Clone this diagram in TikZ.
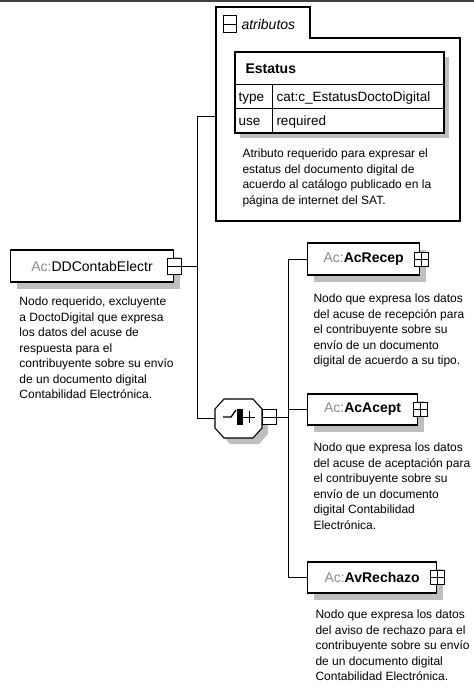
\documentclass[tikz,border=0pt]{standalone}
\usepackage{fontspec}
\setmainfont{Liberation Sans}
\usetikzlibrary{shadows}

\newcommand{\acpre}{\textcolor{black!45}{Ac:}}

\begin{document}
\begin{tikzpicture}[x=1pt, y=-1pt, line width=1pt,
  elem/.style={draw, fill=white, line width=1.2pt, minimum height=32pt, inner sep=0pt,
    anchor=west, font=\fontsize{14}{16}\selectfont,
    drop shadow={shadow xshift=6pt, shadow yshift=-7pt, fill=black!25, opacity=1}},
  desc/.style={anchor=north west, align=left, inner sep=0pt, font=\fontsize{12}{15.5}\selectfont},
  cell/.style={anchor=base west, inner sep=0pt, font=\fontsize{13.5}{15}\selectfont},
  plusbox/.style={draw, fill=white, minimum size=14pt, inner sep=0pt, line width=1pt,
    path picture={\draw (path picture bounding box.north) -- (path picture bounding box.south)
      (path picture bounding box.west) -- (path picture bounding box.east);}},
  minusbox/.style={draw, fill=white, minimum width=14pt, minimum height=16pt, inner sep=0pt, line width=1pt,
    path picture={\draw (path picture bounding box.west) -- (path picture bounding box.east);}}]

\useasboundingbox (0,0) rectangle (474,691);

% draw frame line on top
\draw[black!75, line width=1.5pt] (0,1) -- (474,1);

% draw attribute group
\draw[line width=1.1pt] (216,221) -- (216,7) -- (310,7) -- (310,38) -- (460,38) -- (460,221) -- cycle;
\node[minusbox, minimum width=13pt, minimum height=17pt] (attminus) at (230,24) {};
\node[anchor=west, inner sep=0pt, font=\fontsize{14}{16}\selectfont\itshape] (attlabel) at (241,24) {atributos};
\coordinate (attin) at (216,116);

% draw attribute table
\node[draw, fill=white, line width=1.1pt, minimum width=209pt, minimum height=81pt, inner sep=0pt,
  drop shadow={shadow xshift=5pt, shadow yshift=-5pt, fill=black!25, opacity=1}] (estatus) at (339.5,92.5) {};
\draw (235,84) -- (444,84);
\draw (235,108) -- (444,108);
\draw (272,84) -- (272,133);
\node[cell, font=\fontsize{14}{16}\selectfont\bfseries] (estatusname) at (245,73) {Estatus};
\node[cell] (typekey) at (238,101) {type};
\node[cell] (typeval) at (276,101) {cat:c\_EstatusDoctoDigital};
\node[cell] (usekey) at (238,125) {use};
\node[cell] (useval) at (276,125) {required};
\node[desc] (attdesc) at (242,148.5) {Atributo requerido para expresar el\\estatus del documento digital de\\acuerdo al catálogo publicado en la\\página de internet del SAT.};

% draw root element
\node[elem, minimum width=163pt] (root) at (10,266) {\acpre DDContabElectr};
\node[minusbox] (rootminus) at (root.east) {};
\node[desc] (rootdesc) at (19,296.5) {Nodo requerido, excluyente\\a DoctoDigital que expresa\\los datos del acuse de\\respuesta para el\\contribuyente sobre su envío\\de un documento digital\\Contabilidad Electrónica.};

% draw choice
\fill[black!25] (221,415) -- (230,405) -- (259,405) -- (268,415) -- (268,434) -- (259,444) -- (230,444) -- (221,434) -- cycle;
\draw[fill=white, line width=1.1pt] (215,409) -- (224,399) -- (253,399) -- (262,409) -- (262,428) -- (253,438) -- (224,438) -- (215,428) -- cycle;
\node[minimum width=47pt, minimum height=39pt, inner sep=0pt] (choice) at (238.5,418.5) {};
\draw[line width=1.3pt] (223,417) -- (231,417) -- (236,410);
\fill (237,409) rectangle (243,425);
\draw (243,417) -- (255,417);
\draw (249,411) -- (249,423);
\node[minusbox, minimum height=15pt] (choiceminus) at (269.5,417) {};

% draw child elements
\node[elem, minimum width=112pt] (acrecep) at (307,259) {\acpre\textbf{AcRecep}};
\node[plusbox] (acrecepplus) at ([xshift=1pt]acrecep.east) {};
\node[desc] (acrecepdesc) at (313,293.5) {Nodo que expresa los datos\\del acuse de recepción para\\el contribuyente sobre su\\envío de un documento\\digital de acuerdo a su tipo.};

\node[elem, minimum width=110pt, minimum height=31pt] (acacept) at (307,409.5) {\acpre\textbf{AcAcept}};
\node[plusbox] (acaceptplus) at ([xshift=2pt]acacept.east) {};
\node[desc] (acaceptdesc) at (313,442.5) {Nodo que expresa los datos\\del acuse de aceptación para\\el contribuyente sobre su\\envío de un documento\\digital Contabilidad\\Electrónica.};

\node[elem, minimum width=129pt, minimum height=31pt] (avrechazo) at (307,577.5) {\acpre\textbf{AvRechazo}};
\node[plusbox] (avrechazoplus) at (avrechazo.east) {};
\node[desc] (avrechazodesc) at (315,609.5) {Nodo que expresa los datos\\del aviso de rechazo para el\\contribuyente sobre su envío\\de un documento digital\\Contabilidad Electrónica.};

% draw connectors
\coordinate (busa) at (197,0);
\coordinate (busb) at (288,0);
\draw (rootminus.east) -- (rootminus.east -| busa);
\draw (attin) -- (attin -| busa) -- (choice.west -| busa) -- (choice.west);
\draw (choiceminus.east) -- (choiceminus.east -| busb);
\draw (acrecep.west) -- (acrecep.west -| busb) -- (avrechazo.west -| busb) -- (avrechazo.west);
\draw (acacept.west) -- (acacept.west -| busb);

\end{tikzpicture}
\end{document}
